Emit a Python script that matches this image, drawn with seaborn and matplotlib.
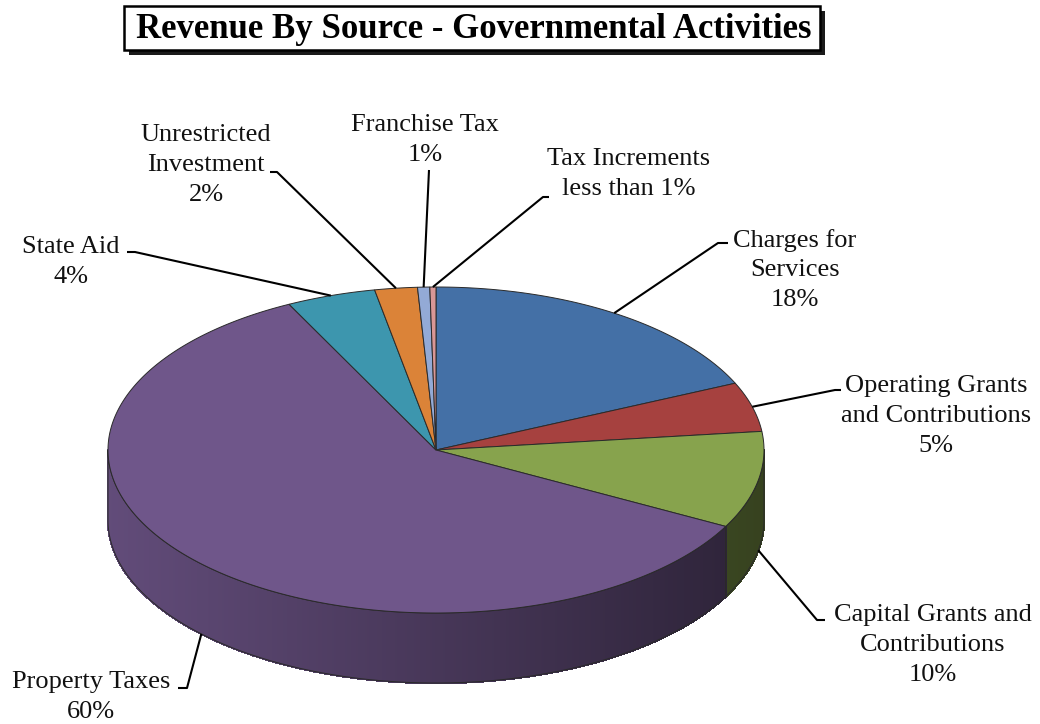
import numpy as np
import matplotlib
matplotlib.use("Agg")
import matplotlib.pyplot as plt
from matplotlib.patches import Polygon, Rectangle
from matplotlib.collections import PolyCollection
import seaborn as sns

# Revenue sources (share of total, percent), in clockwise order from 12 o'clock
categories = [
    "Charges for\nServices",
    "Operating Grants\nand Contributions",
    "Capital Grants and\nContributions",
    "Property Taxes",
    "State Aid",
    "Unrestricted\nInvestment",
    "Franchise Tax",
    "Tax Increments",
]
shares = [18.3, 4.9, 9.6, 59.9, 4.4, 2.1, 0.6, 0.3]
slice_colors = ["#4470a6", "#a6413f", "#87a34d", "#6f568a",
                "#3d96ae", "#db8338", "#93aad6", "#d99796"]

sns.set_theme(style="white")
plt.rcParams["font.family"] = ["Liberation Serif", "DejaVu Serif"]

palette = sns.color_palette(slice_colors)

# pie geometry (pixel space)
CX, CY, RX, RY, DEPTH = 436.0, 450.0, 328.0, 163.0, 70.0

# label block centres and leader elbows
label_pos = [(795, 270), (936, 416), (933, 645), (91, 697),
             (71, 262), (206, 165), (425, 140), (629, 174)]
elbows = [[(718, 243), (728, 243)],
          [(835, 390), (841, 390)],
          [(817, 620), (825, 620)],
          [(187, 688), (178, 688)],
          [(135, 252), (127, 252)],
          [(277, 172), (270, 172)],
          [(429, 170)],
          [(543, 197), (549, 197)]]

fig = plt.figure(figsize=(10.4, 7.24), dpi=100)
ax = fig.add_axes([0, 0, 1, 1])
ax.set_xlim(0, 1040)
ax.set_ylim(724, 0)
ax.axis("off")


def rim(theta_deg, drop=0.0):
    t = np.radians(theta_deg)
    return CX + RX * np.sin(t), CY - RY * np.cos(t) + drop


total = float(sum(shares))
bounds = np.concatenate([[0.0], np.cumsum(shares) / total * 360.0])

# side wall (only the front half is visible)
edge = "#2a2a2a"
for i, col in enumerate(palette):
    lo, hi = max(bounds[i], 90.0), min(bounds[i + 1], 270.0)
    if hi <= lo:
        continue
    ts = np.linspace(lo, hi, max(int((hi - lo) * 3), 2) + 1)
    quads, qcols = [], []
    base = np.array(col)
    for t0, t1 in zip(ts[:-1], ts[1:]):
        x0, y0 = rim(t0)
        x1, y1 = rim(t1)
        quads.append([(x0, y0), (x1, y1), (x1, y1 + DEPTH), (x0, y0 + DEPTH)])
        s = np.sin(np.radians(0.5 * (t0 + t1)))
        f = 0.64 - 0.24 * s
        qcols.append(np.clip(base * f, 0, 1))
    ax.add_collection(PolyCollection(quads, facecolors=qcols, edgecolors=qcols,
                                     linewidths=1.0, antialiaseds=False, zorder=1))
    xs, ys = rim(ts)
    outline = list(zip(xs, ys)) + list(zip(xs[::-1], ys[::-1] + DEPTH))
    ax.add_patch(Polygon(outline, closed=True, fill=False, edgecolor=edge,
                         linewidth=0.7, zorder=2))

# top face
for i, col in enumerate(palette):
    ts = np.linspace(bounds[i], bounds[i + 1], max(int((bounds[i + 1] - bounds[i]) * 2), 2) + 1)
    xs, ys = rim(ts)
    pts = [(CX, CY)] + list(zip(xs, ys))
    ax.add_patch(Polygon(pts, closed=True, facecolor=col, edgecolor=edge,
                         linewidth=0.7, zorder=3))

# labels with leader lines
for i, name in enumerate(categories):
    pct = shares[i] / total * 100.0
    pct_txt = "less than 1%" if pct < 0.5 else f"{pct:.0f}%"
    mid = 0.5 * (bounds[i] + bounds[i + 1])
    front = 90.0 < mid < 270.0
    start = rim(mid, DEPTH if front else 0.0)
    path = [start] + elbows[i]
    ax.plot([p[0] for p in path], [p[1] for p in path], color="black",
            linewidth=1.5, solid_capstyle="butt", zorder=4)
    ax.text(label_pos[i][0], label_pos[i][1], f"{name}\n{pct_txt}",
            ha="center", va="center", multialignment="center",
            fontsize=19, linespacing=1.45, color="#111111", zorder=5)

# boxed title with drop shadow
ax.add_patch(Rectangle((129, 11), 696, 44, facecolor="#1a1a1a",
                       edgecolor="none", zorder=6))
ax.add_patch(Rectangle((124, 6), 696, 44, facecolor="white",
                       edgecolor="black", linewidth=1.8, zorder=7))
ax.text(474, 30, "Revenue By Source - Governmental Activities",
        ha="center", va="center", fontsize=25, fontweight="bold",
        color="black", zorder=8)

fig.savefig("out.png", dpi=100)
